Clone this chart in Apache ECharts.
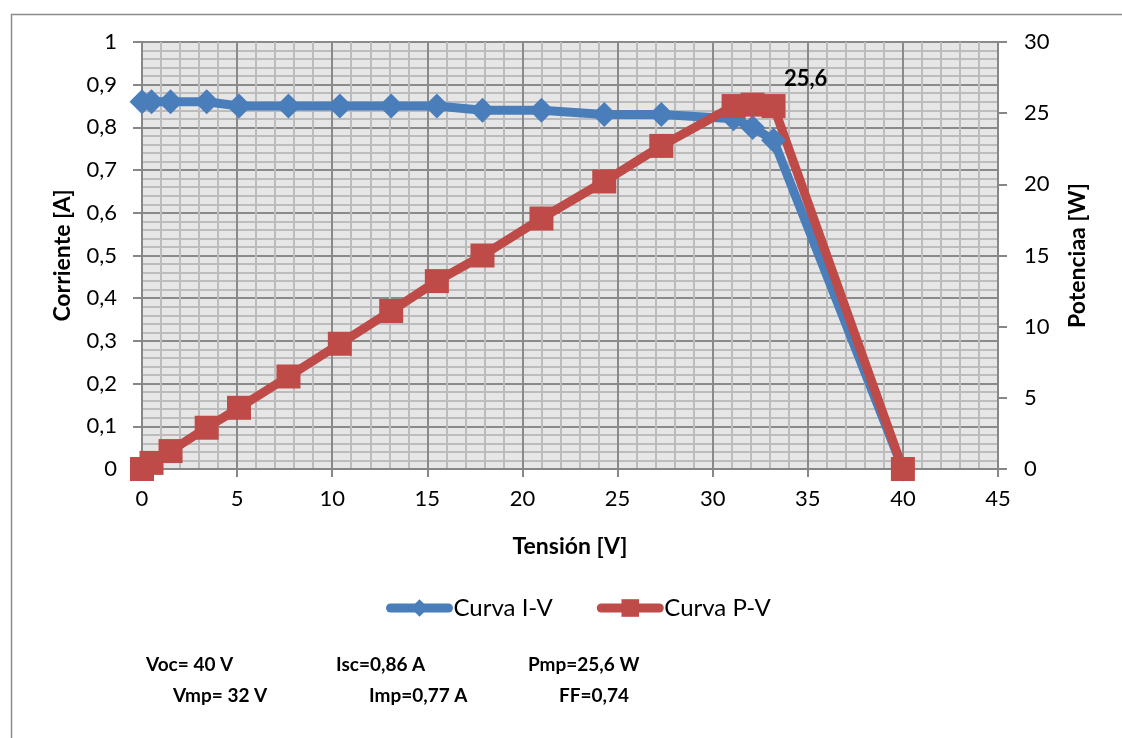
<!DOCTYPE html>
<html>
<head>
<meta charset="utf-8">
<script src="https://cdn.jsdelivr.net/npm/echarts@6/dist/echarts.min.js"></script>
<style>
  html, body { margin: 0; padding: 0; background: #fff; }
  #main { width: 1122px; height: 738px; }
</style>
</head>
<body>
<div id="main"></div>
<script>
// valores
var tension = [0, 0.5, 1.5, 3.4, 5.1, 7.7, 10.4, 13.1, 15.5, 17.9, 21.0, 24.3, 27.3, 31.1, 32.1, 33.2, 40];
var corriente = [0.86, 0.86, 0.86, 0.86, 0.85, 0.85, 0.85, 0.85, 0.85, 0.84, 0.84, 0.83, 0.83, 0.82, 0.80, 0.77, 0];
var potencia = [0, 0.43, 1.26, 2.9, 4.3, 6.5, 8.8, 11.1, 13.2, 15.0, 17.6, 20.2, 22.7, 25.5, 25.6, 25.5, 0];
var resumen1 = ['Voc= 40 V', 'Isc=0,86 A', 'Pmp=25,6 W'];
var resumen2 = ['Vmp= 32 V', 'Imp=0,77 A', 'FF=0,74'];

var font = 'Lato, "Open Sans", sans-serif';
var azul = '#4a7ebb';
var rojo = '#be4b48';

function coma(v) { return String(v).replace('.', ','); }

var ivData = tension.map(function (v, i) { return [v, corriente[i]]; });
var pvData = tension.map(function (v, i) {
  var d = { value: [v, potencia[i]] };
  if (i === 14) {
    d.label = { show: true, position: 'top', offset: [53, 2], formatter: '25,6',
      fontFamily: font, fontWeight: 'bold', fontSize: 22, color: '#000' };
  }
  return d;
});

var nombre = { fontFamily: font, fontWeight: 'bold', fontSize: 23, color: '#000' };

var chart = echarts.init(document.getElementById('main'));
var option = {
  animation: false,
  textStyle: { fontFamily: font },
  grid: { left: 142, right: 124, top: 42, bottom: 269, show: true, backgroundColor: '#e6e6e6', borderWidth: 0 },
  legend: {
    top: 591, left: 381, itemWidth: 58, itemHeight: 22, itemGap: 44,
    lineStyle: { width: 9, cap: 'round' },
    textStyle: { fontFamily: font, fontSize: 24, color: '#000' },
    data: ['Curva I-V', 'Curva P-V']
  },
  xAxis: {
    type: 'value', min: 0, max: 45, interval: 5,
    name: 'Tensión [V]', nameLocation: 'middle', nameGap: 66, nameTextStyle: nombre,
    axisLine: { show: true, lineStyle: { color: '#878787', width: 2 } },
    axisTick: { show: true, length: 8, lineStyle: { color: '#878787', width: 2 } },
    axisLabel: { margin: 19, fontSize: 22, color: '#000', fontFamily: font },
    splitLine: { show: true, lineStyle: { color: '#8a8a8a', width: 2 } },
    minorTick: { show: false, splitNumber: 5 },
    minorSplitLine: { show: true, lineStyle: { color: '#bcbcbc', width: 2 } }
  },
  yAxis: [{
    type: 'value', min: 0, max: 1, interval: 0.1, position: 'left',
    name: 'Corriente [A]', nameLocation: 'middle', nameGap: 68, nameTextStyle: nombre,
    axisLine: { show: true, lineStyle: { color: '#878787', width: 2 } },
    axisTick: { show: true, length: 9, lineStyle: { color: '#878787', width: 2 } },
    axisLabel: { margin: 25, fontSize: 22, color: '#000', fontFamily: font, formatter: coma },
    splitLine: { show: true, lineStyle: { color: '#8a8a8a', width: 2 } },
    minorTick: { show: false, splitNumber: 5 },
    minorSplitLine: { show: true, lineStyle: { color: '#bcbcbc', width: 2 } }
  }, {
    type: 'value', min: 0, max: 30, interval: 5, position: 'right',
    name: 'Potenciaa [W]', nameLocation: 'middle', nameGap: 68, nameTextStyle: nombre,
    axisLine: { show: true, lineStyle: { color: '#878787', width: 2 } },
    axisTick: { show: true, length: 9, lineStyle: { color: '#878787', width: 2 } },
    axisLabel: { margin: 26, fontSize: 22, color: '#000', fontFamily: font },
    splitLine: { show: false }
  }],
  series: [{
    name: 'Curva I-V', type: 'line', yAxisIndex: 0, data: ivData,
    symbol: 'diamond', symbolSize: 25, showAllSymbol: true,
    lineStyle: { color: azul, width: 9 },
    itemStyle: { color: azul, borderWidth: 0 }
  }, {
    name: 'Curva P-V', type: 'line', yAxisIndex: 1, data: pvData,
    symbol: 'rect', symbolSize: 24, showAllSymbol: true,
    lineStyle: { color: rojo, width: 9 },
    itemStyle: { color: rojo, borderWidth: 0 }
  }],
  graphic: [
    { type: 'rect', left: 9, top: 12, shape: { width: 1200, height: 800 }, silent: true,
      style: { fill: 'none', stroke: '#8c8c8c', lineWidth: 1.5 }, z: -1 },
    { type: 'text', left: 146, top: 655, style: { text: resumen1[0], font: 'bold 19px ' + font, fill: '#000' } },
    { type: 'text', left: 336, top: 655, style: { text: resumen1[1], font: 'bold 19px ' + font, fill: '#000' } },
    { type: 'text', left: 528, top: 655, style: { text: resumen1[2], font: 'bold 19px ' + font, fill: '#000' } },
    { type: 'text', left: 173, top: 686, style: { text: resumen2[0], font: 'bold 19px ' + font, fill: '#000' } },
    { type: 'text', left: 369, top: 686, style: { text: resumen2[1], font: 'bold 19px ' + font, fill: '#000' } },
    { type: 'text', left: 559, top: 686, style: { text: resumen2[2], font: 'bold 19px ' + font, fill: '#000' } }
  ]
};
chart.setOption(option);
</script>
</body>
</html>
